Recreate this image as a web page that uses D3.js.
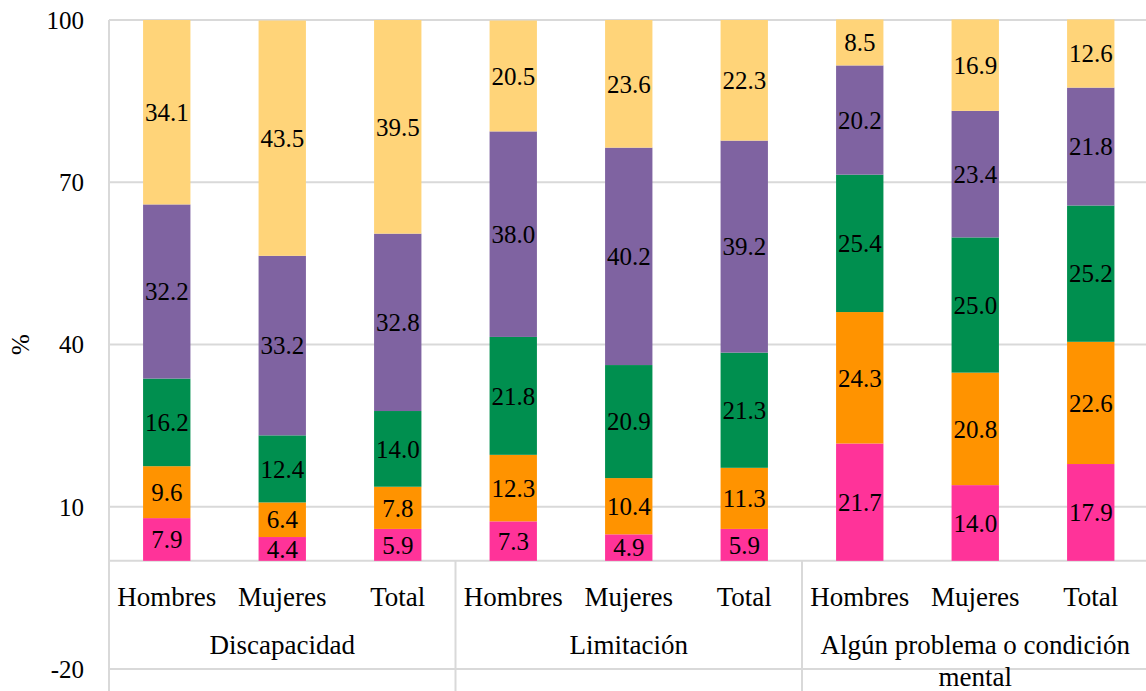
<!DOCTYPE html>
<html>
<head>
<meta charset="utf-8">
<script src="https://cdn.jsdelivr.net/npm/d3@7"></script>
<style>
  body { margin: 0; background: #fff; }
  svg { display: block; }
</style>
</head>
<body>
<svg width="1146" height="691"></svg>
<script>
const groups = ['Discapacidad', 'Limitación', 'Algún problema o condición mental'];
const subgroups = ['Hombres', 'Mujeres', 'Total'];
const seriesKeys = ['s1', 's2', 's3', 's4', 's5'];
const colors = ['#ff3399', '#ff9300', '#008f4f', '#7f63a1', '#ffd479'];

// bottom to top, one array per series, in bar order
const s1 = [7.9, 4.4, 5.9, 7.3, 4.9, 5.9, 21.7, 14.0, 17.9];
const s2 = [9.6, 6.4, 7.8, 12.3, 10.4, 11.3, 24.3, 20.8, 22.6];
const s3 = [16.2, 12.4, 14.0, 21.8, 20.9, 21.3, 25.4, 25.0, 25.2];
const s4 = [32.2, 33.2, 32.8, 38.0, 40.2, 39.2, 20.2, 23.4, 21.8];
const s5 = [34.1, 43.5, 39.5, 20.5, 23.6, 22.3, 8.5, 16.9, 12.6];

const yTicks = [-20, 10, 40, 70, 100];

const FONT = '"Liberation Serif"';

const svg = d3.select('svg');
const width = +svg.attr('width');
const height = +svg.attr('height');

const left = 109;
const catWidth = 115.5;

const data = [];
groups.forEach((g, gi) => {
    subgroups.forEach((s, si) => {
        const i = gi * 3 + si;
        data.push({ key: g + '|' + s, group: g, sub: s,
            s1: s1[i], s2: s2[i], s3: s3[i], s4: s4[i], s5: s5[i] });
    });
});

const xScale = d3.scaleBand()
    .domain(data.map(d => d.key))
    .range([left, left + catWidth * data.length])
    .paddingInner(0.59)
    .paddingOuter(0.295);

const yScale = d3.scaleLinear()
    .domain([-20, 100])
    .range([669, 20]);

// gridlines
const grid = svg.append('g')
    .attr('stroke', '#d9d9d9')
    .attr('stroke-width', 2);

grid.selectAll('line.h')
    .data(yTicks.concat([0]))
    .enter()
    .append('line')
    .attr('x1', left)
    .attr('x2', width)
    .attr('y1', d => yScale(d))
    .attr('y2', d => yScale(d));

// group separators under the axis
const groupEdges = [0, 3, 6, 9].map(i => left + catWidth * i);
grid.selectAll('line.v')
    .data(groupEdges)
    .enter()
    .append('line')
    .attr('x1', d => d)
    .attr('x2', d => d)
    .attr('y1', (d, i) => i === 0 ? yScale(100) : yScale(0))
    .attr('y2', height);

// stacked bars
const stacked = d3.stack().keys(seriesKeys)(data);

const layers = svg.append('g')
    .selectAll('g')
    .data(stacked)
    .enter()
    .append('g')
    .attr('fill', (d, i) => colors[i]);

layers.selectAll('rect')
    .data(d => d)
    .enter()
    .append('rect')
    .attr('x', d => xScale(d.data.key))
    .attr('y', d => yScale(d[1]))
    .attr('width', xScale.bandwidth())
    .attr('height', d => yScale(d[0]) - yScale(d[1]));

layers.selectAll('text')
    .data(d => d.map(v => ({ v, key: d.key })))
    .enter()
    .append('text')
    .style('font-family', FONT)
    .style('font-size', '25px')
    .style('fill', '#000')
    .attr('x', d => xScale(d.v.data.key) + xScale.bandwidth() / 2)
    .attr('y', d => yScale((d.v[0] + d.v[1]) / 2))
    .attr('dy', '0.35em')
    .attr('text-anchor', 'middle')
    .text(d => d.v.data[d.key].toFixed(1));

// y tick labels
svg.append('g')
    .selectAll('text')
    .data(yTicks)
    .enter()
    .append('text')
    .style('font-family', FONT)
    .style('font-size', '25px')
    .attr('x', 84)
    .attr('y', d => yScale(d))
    .attr('dy', '0.35em')
    .attr('text-anchor', 'end')
    .text(d => d);

svg.append('text')
    .style('font-family', FONT)
    .style('font-size', '25px')
    .attr('transform', `translate(20,${yScale(40)}) rotate(-90)`)
    .attr('text-anchor', 'middle')
    .attr('dy', '0.35em')
    .text('%');

// category labels
svg.append('g')
    .selectAll('text')
    .data(data)
    .enter()
    .append('text')
    .style('font-family', FONT)
    .style('font-size', '27px')
    .attr('x', d => xScale(d.key) + xScale.bandwidth() / 2)
    .attr('y', 597)
    .attr('dy', '0.35em')
    .attr('text-anchor', 'middle')
    .text(d => d.sub);

const groupLines = [['Discapacidad'], ['Limitación'], ['Algún problema o condición', 'mental']];
groupLines.forEach((lines, gi) => {
    const cx = left + catWidth * (gi * 3 + 1.5);
    lines.forEach((t, li) => {
        svg.append('text')
            .style('font-family', FONT)
            .style('font-size', '27px')
            .attr('x', cx)
            .attr('y', 645 + li * 32)
            .attr('dy', '0.35em')
            .attr('text-anchor', 'middle')
            .text(t);
    });
});
</script>
</body>
</html>
